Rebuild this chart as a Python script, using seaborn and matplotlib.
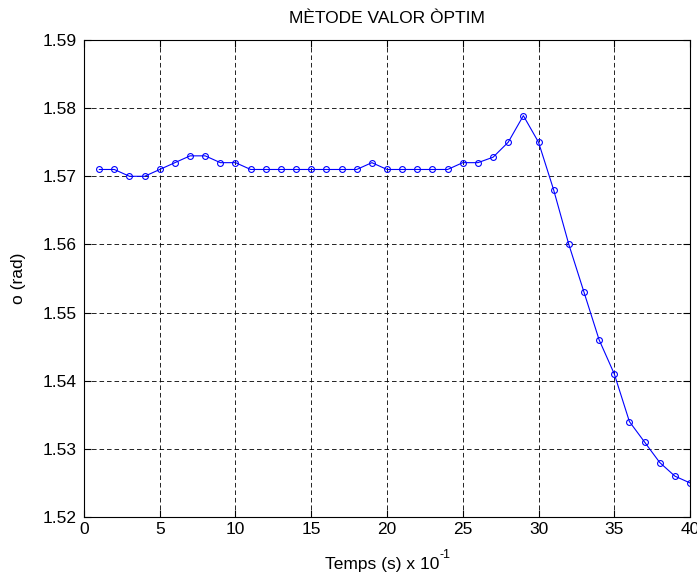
import matplotlib
matplotlib.use("Agg")
import matplotlib.pyplot as plt
import seaborn as sns
import pandas as pd

# Sample index (time in tenths of a second) and measured angle in radians
temps = list(range(1, 41))
angle = [1.571, 1.571, 1.570, 1.570, 1.571, 1.572, 1.573, 1.573, 1.572, 1.572,
         1.571, 1.571, 1.571, 1.571, 1.571, 1.571, 1.571, 1.571, 1.572, 1.571,
         1.571, 1.571, 1.571, 1.571, 1.572, 1.572, 1.5728, 1.575, 1.5789, 1.575,
         1.568, 1.560, 1.553, 1.546, 1.541, 1.534, 1.531, 1.528, 1.526, 1.525]

x_ticks = [0, 5, 10, 15, 20, 25, 30, 35, 40]
y_ticks = [1.52, 1.53, 1.54, 1.55, 1.56, 1.57, 1.58, 1.59]
y_tick_labels = ["1.52", "1.53", "1.54", "1.55", "1.56", "1.57", "1.58", "1.59"]

df = pd.DataFrame({"temps": temps, "angle": angle})

sns.set_theme(style="white")
plt.rcParams["font.family"] = ["Liberation Sans", "DejaVu Sans"]

fs = 12.5

fig = plt.figure(figsize=(6.97, 5.78), dpi=100)
ax = fig.add_axes([0.1205, 0.1055, 0.8695, 0.8253])

sns.lineplot(data=df, x="temps", y="angle", ax=ax, color="#0000ff",
             linewidth=0.8, marker="o", markersize=4.2,
             markerfacecolor="none", markeredgecolor="#0000ff",
             markeredgewidth=0.8)

ax.set_xlim(0, 40)
ax.set_ylim(1.52, 1.59)
ax.set_xticks(x_ticks)
ax.set_xticklabels([str(t) for t in x_ticks])
ax.set_yticks(y_ticks)
ax.set_yticklabels(y_tick_labels)

ax.grid(True, color="black", linestyle=(0, (5.5, 3.5)), linewidth=0.6)
ax.set_axisbelow(True)

for side in ["top", "right", "bottom", "left"]:
    ax.spines[side].set_visible(True)
    ax.spines[side].set_color("black")
    ax.spines[side].set_linewidth(0.8)

ax.tick_params(axis="both", which="both", direction="in", length=5,
               width=0.8, colors="black", labelsize=fs,
               top=True, right=True, bottom=True, left=True)
ax.tick_params(axis="x", pad=3.5)
ax.tick_params(axis="y", pad=5.5)

ax.set_title("MÈTODE VALOR ÒPTIM", fontsize=fs, color="black", pad=12)

# x label with a raised exponent placed after it
ax.set_xlabel("Temps (s) x 10", fontsize=fs, color="black")
ax.xaxis.set_label_coords(0.4917, -0.084)
ax.annotate("-1", xy=(1, 1), xycoords=ax.xaxis.label, xytext=(0.3, -0.5),
            textcoords="offset points", ha="left", va="baseline",
            fontsize=9, color="black")

ax.set_ylabel("o (rad)", fontsize=fs, color="black")
ax.yaxis.set_label_coords(-0.096, 0.5)

fig.savefig("out.png", dpi=100, facecolor="white")
